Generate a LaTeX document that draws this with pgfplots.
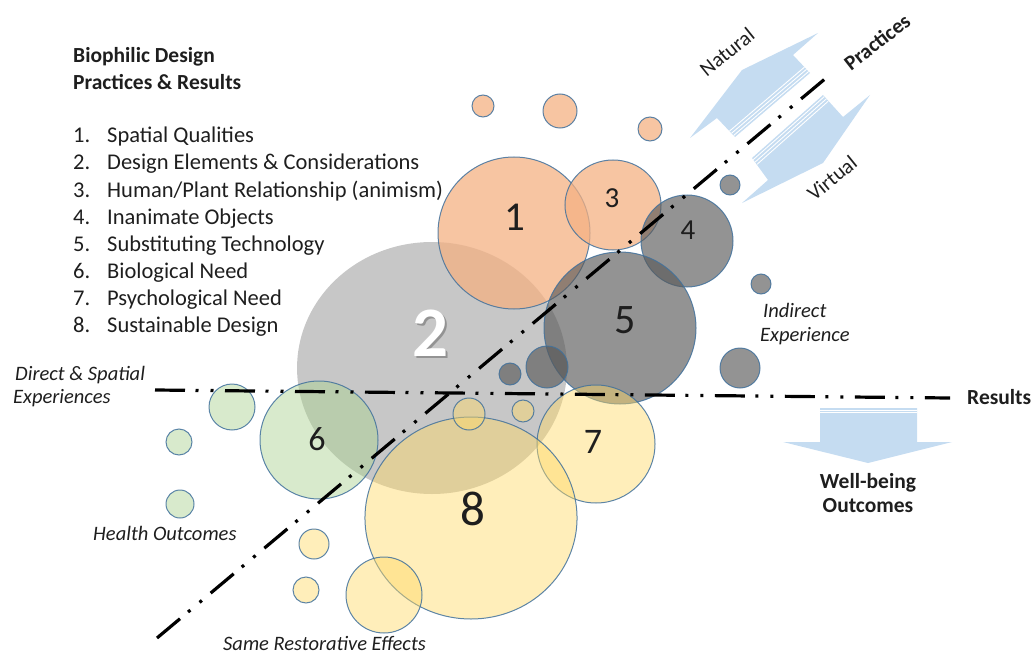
\documentclass[border=0pt]{standalone}
\usepackage{fontspec}
\setmainfont{Carlito}
\usepackage{pgfplots}
\pgfplotsset{compat=1.18}
\definecolor{orF}{HTML}{F4B183}
\definecolor{grF}{HTML}{A5A5A5}
\definecolor{dkF}{HTML}{595959}
\definecolor{gnF}{HTML}{A9D18E}
\definecolor{ylF}{HTML}{FFD966}
\definecolor{edgeC}{HTML}{41719C}
\definecolor{arrC}{HTML}{C5DCF1}
\definecolor{txt}{HTML}{1E1E1E}
\tikzset{
 orB/.style={fill=orF, fill opacity=0.75, draw=edgeC, draw opacity=0.85, line width=1pt},
 grB/.style={fill=grF, fill opacity=0.62, draw opacity=0},
 dkB/.style={fill=dkF, fill opacity=0.65, draw=edgeC, draw opacity=0.85, line width=1pt},
 gnB/.style={fill=gnF, fill opacity=0.45, draw=edgeC, draw opacity=0.85, line width=1pt},
 ylB/.style={fill=ylF, fill opacity=0.45, draw=edgeC, draw opacity=0.85, line width=1pt},
 ddline/.style={black, line width=3.2pt, dash pattern=on 30pt off 10.5pt on 3pt off 12pt on 3pt off 11.5pt},
 lst/.style={anchor=base west, inner sep=0pt, text=txt, font=\fontsize{22.5}{27}\selectfont},
 itl/.style={anchor=base west, inner sep=0pt, text=txt, font=\itshape\fontsize{20.5}{24}\selectfont},
 bld/.style={inner sep=0pt, text=txt, font=\bfseries\fontsize{21.5}{27}\selectfont},
}
\newcommand{\bub}[5][]{\addplot[only marks, mark=*, mark size=#4, mark options={#5,#1}] coordinates {(#2,#3)};}
\begin{document}
\begin{tikzpicture}
\path[use as bounding box] (0,0) rectangle (1035pt,655pt);
\begin{axis}[at={(0,0)}, anchor=south west, width=1035pt, height=655pt, scale only axis,
  xmin=0, xmax=1035, ymin=0, ymax=655, y dir=reverse, hide axis, clip=false, clip mode=individual]
% arrows
\addplot[fill=arrC, draw=none] coordinates {(690,138) (742,70) (818,33) (793,55) (810,73) (735,137) (717,118) (690,138)};
\addplot[white, line width=0.9pt] coordinates {(733.6,135.5) (808.6,71.5)};
\addplot[white, line width=0.9pt] coordinates {(731.5,133.3) (806.5,69.3)};
\addplot[white, line width=0.9pt] coordinates {(729.5,131.1) (804.5,67.1)};
\addplot[fill=arrC, draw=none] coordinates {(752,158) (823,95) (843,117) (870,95) (823,163) (742,203) (768,180) (752,158)};
\addplot[white, line width=0.9pt] coordinates {(753.3,159.6) (824.3,96.6)};
\addplot[white, line width=0.9pt] coordinates {(755.2,162) (826.2,99)};
\addplot[white, line width=0.9pt] coordinates {(757.1,164.3) (828.1,101.3)};
\addplot[fill=arrC, draw=none] coordinates {(820,408) (917,408) (917,442) (952,442) (868,463) (783,442) (820,442) (820,408)};
\addplot[white, line width=0.9pt] coordinates {(820,410.2) (917,410.2)};
\addplot[white, line width=0.9pt] coordinates {(820,412.8) (917,412.8)};
% bubbles
\bub[xscale=1.071]{432}{368}{126}{grB}
\bub{514}{233}{76}{orB}
\bub[xscale=1.067]{613}{205}{45}{orB}
\bub{483}{106}{11}{orB}
\bub{560}{111}{17}{orB}
\bub{650}{129}{12}{orB}
\bub{687}{241}{46}{dkB}
\bub{620}{328}{76}{dkB}
\bub{730}{185}{10}{dkB}
\bub{761}{284}{10}{dkB}
\bub{740}{368}{20}{dkB}
\bub{547}{367}{21}{dkB}
\bub{510}{374}{11}{dkB}
\bub{319}{440}{59}{gnB}
\bub{232}{407}{23}{gnB}
\bub{179}{442}{13}{gnB}
\bub{180}{504}{14}{gnB}
\bub{596}{444}{59}{ylB}
\bub[xscale=1.05]{471}{518}{101}{ylB}
\bub{469}{414}{16}{ylB}
\bub{523}{411}{11}{ylB}
\bub{314}{544}{15}{ylB}
\bub{306}{590}{13}{ylB}
\bub{384}{595}{38}{ylB}
% lines
\addplot[ddline] coordinates {(157,638) (832,73)};
\addplot[ddline] coordinates {(155,390) (950,398)};
% bubble numbers
\node[text=txt, font=\fontsize{41}{41}\selectfont] at (axis cs:515,217) {1};
\node[text=txt, font=\fontsize{29}{29}\selectfont] at (axis cs:612,198) {3};
\node[text=txt, font=\fontsize{29}{29}\selectfont] at (axis cs:688,230) {4};
\node[text=txt, font=\fontsize{42}{42}\selectfont] at (axis cs:625,320) {5};
\node[text=txt, font=\fontsize{34}{34}\selectfont] at (axis cs:317,439) {6};
\node[text=txt, font=\fontsize{36}{36}\selectfont] at (axis cs:593,442) {7};
\node[text=txt, font=\fontsize{49}{49}\selectfont] at (axis cs:473,509) {8};
\node[text=gray!85, font=\bfseries\fontsize{71}{71}\selectfont] at (axis cs:432.5,335.5) {2};
\node[text=white, font=\bfseries\fontsize{71}{71}\selectfont] at (axis cs:430,333) {2};
% title and list
\node[bld, anchor=base west] at (axis cs:73,63) {Biophilic Design};
\node[bld, anchor=base west] at (axis cs:73,90) {Practices \& Results};
\node[lst] at (axis cs:73,143) {1.};
\node[lst] at (axis cs:73,170) {2.};
\node[lst] at (axis cs:73,197) {3.};
\node[lst] at (axis cs:73,224) {4.};
\node[lst] at (axis cs:73,251) {5.};
\node[lst] at (axis cs:73,278) {6.};
\node[lst] at (axis cs:73,305) {7.};
\node[lst] at (axis cs:73,332) {8.};
\node[lst] at (axis cs:107,143) {Spatial Qualities};
\node[lst] at (axis cs:107,170) {Design Elements \& Considerations};
\node[lst] at (axis cs:107,197) {Human/Plant Relationship (animism)};
\node[lst] at (axis cs:107,224) {Inanimate Objects};
\node[lst] at (axis cs:107,251) {Substituting Technology};
\node[lst] at (axis cs:107,278) {Biological Need};
\node[lst] at (axis cs:107,305) {Psychological Need};
\node[lst] at (axis cs:107,332) {Sustainable Design};
% italic labels
\node[itl] at (axis cs:15,380) {Direct \& Spatial};
\node[itl] at (axis cs:13,403) {Experiences};
\node[itl] at (axis cs:93,540) {Health Outcomes};
\node[itl] at (axis cs:223,650) {Same Restorative Effects};
\node[itl] at (axis cs:763,317) {Indirect};
\node[itl] at (axis cs:760,341) {Experience};
% bold labels
\node[bld, anchor=base west] at (axis cs:967,404) {Results};
\node[bld, anchor=base] at (axis cs:868,488) {Well-being};
\node[bld, anchor=base] at (axis cs:868,512) {Outcomes};
% rotated labels
\node[rotate=39, text=txt, inner sep=0pt, font=\fontsize{21}{24}\selectfont] at (axis cs:727,52) {Natural};
\node[rotate=39, text=txt, inner sep=0pt, font=\fontsize{21}{24}\selectfont] at (axis cs:832,178) {Virtual};
\node[rotate=38, text=txt, inner sep=0pt, font=\bfseries\fontsize{21}{24}\selectfont] at (axis cs:877,42) {Practices};
\end{axis}
\end{tikzpicture}
\end{document}
